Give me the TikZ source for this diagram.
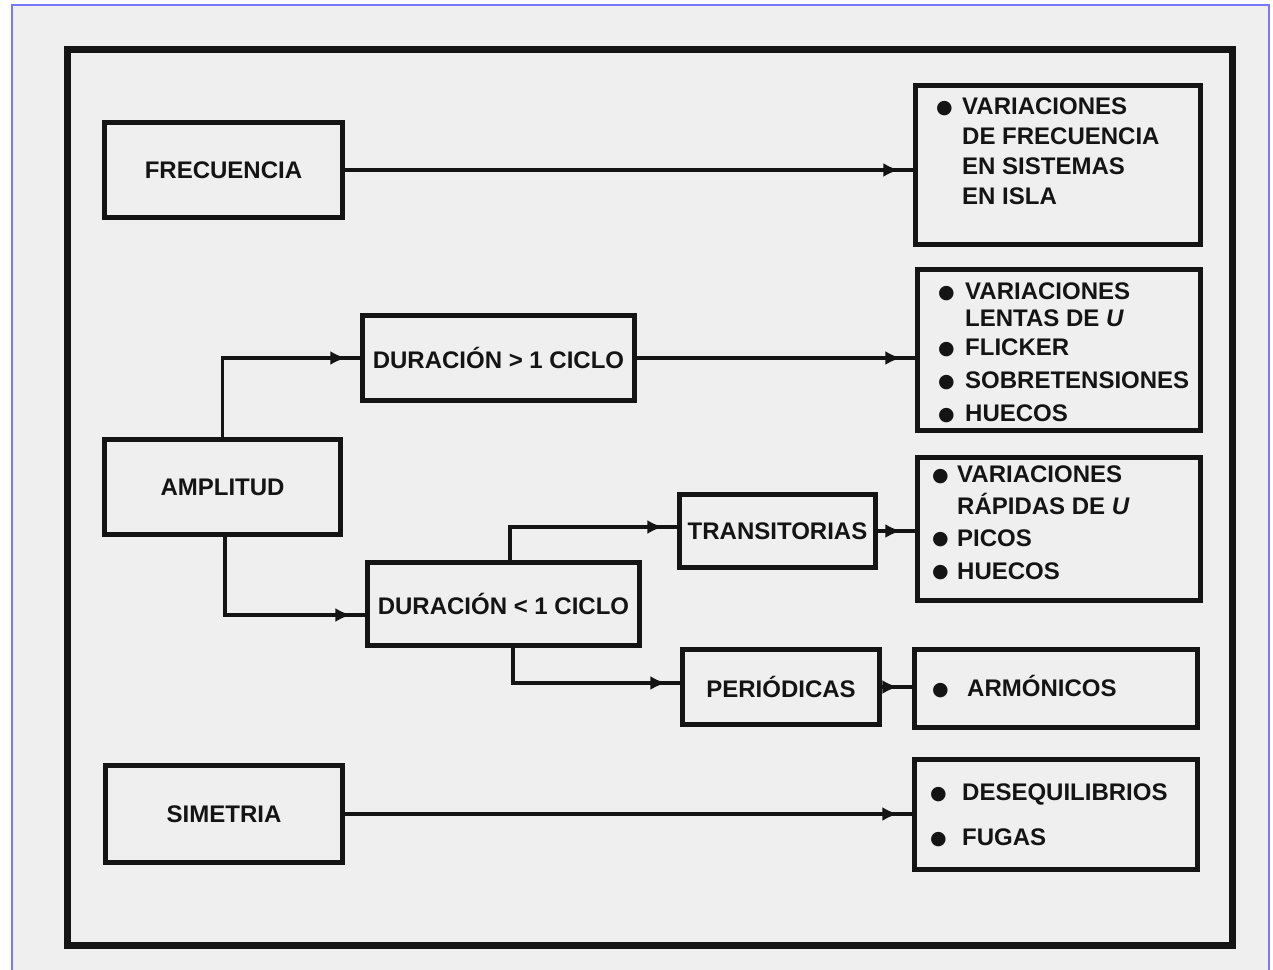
\documentclass[tikz,border=0pt]{standalone}
\usepackage{fontspec}
\setmainfont{Liberation Sans}
\newfontfamily\simbolos{DejaVu Sans}
\usetikzlibrary{arrows.meta,decorations.markings}
\definecolor{fondo}{RGB}{239,239,239}
\definecolor{marco}{RGB}{120,120,255}
\definecolor{tinta}{RGB}{20,20,20}
\newcommand{\vineta}[1]{\makebox[#1][l]{\raisebox{1.5pt}{\simbolos\fontsize{19}{19}\selectfont ●}}}

\begin{document}
\begin{tikzpicture}
	  [x=1pt,y=-1pt,
	   every node/.style={font=\bfseries\fontsize{24}{29}\selectfont,text=tinta},
	   caja/.style={draw=tinta,line width=4.5pt,rectangle,inner sep=0pt},
	   lista/.style={anchor=base west,inner sep=0pt},
	   flecha/.style={draw=tinta,line width=3.5pt,postaction={decorate},
	     decoration={markings,mark=at position -14pt with {\arrow{Latex[length=16pt,width=14pt]}}}}]
	\useasboundingbox (0,0) rectangle (1273,969);
	\fill[white] (0,0) rectangle (1273,969);
	\fill[fondo] (12,5) rectangle (1269,975);
	\draw[marco,line width=2pt] (12,975) -- (12,5) -- (1269,5) -- (1269,975);
	\draw[tinta,line width=7pt] (67,49) rectangle (1232,945);

	% columna izquierda
	\node[caja,minimum width=238pt,minimum height=95pt] (frec) at (223.5,170) {FRECUENCIA};
	\node[caja,minimum width=236pt,minimum height=95pt] (amp)  at (222.5,487) {AMPLITUD};
	\node[caja,minimum width=237pt,minimum height=97pt] (sim)  at (224,814)   {SIMETRIA};

	% columna central
	\node[caja,minimum width=272pt,minimum height=85pt] (dmay)  at (498.5,358) {DURACIÓN > 1 CICLO};
	\node[caja,minimum width=272pt,minimum height=83pt] (dmen)  at (503.5,604) {DURACIÓN < 1 CICLO};
	\node[caja,minimum width=196pt,minimum height=73pt] (trans) at (777.5,531) {TRANSITORIAS};
	\node[caja,minimum width=197pt,minimum height=75pt] (peri)  at (781,687)   {PERIÓDICAS};

	% columna derecha
	\node[caja,minimum width=285pt,minimum height=159pt] (lfrec) at (1058,165)   {};
	\node[caja,minimum width=283pt,minimum height=161pt] (llent) at (1059,350)   {};
	\node[caja,minimum width=283pt,minimum height=143pt] (lrap)  at (1059,529)   {};
	\node[caja,minimum width=283pt,minimum height=78pt]  (larm)  at (1056,688.5) {};
	\node[caja,minimum width=283pt,minimum height=110pt] (ldes)  at (1056,814.5) {};

	\node[lista] (tfrec) at (936,114.5) {\begin{tabular}[t]{@{}l@{}l@{}}
	  \vineta{26pt} & VARIACIONES\\[1pt] & DE FRECUENCIA\\[1pt] & EN SISTEMAS\\[1pt] & EN ISLA
	  \end{tabular}};
	\node[lista] (tlent) at (938,299.5) {\begin{tabular}[t]{@{}l@{}l@{}}
	  \vineta{27pt} & VARIACIONES\\[-2pt] & LENTAS DE \textit{U}\\[0pt]
	  \vineta{27pt} & FLICKER\\[4pt] \vineta{27pt} & SOBRETENSIONES\\[4pt] \vineta{27pt} & HUECOS
	  \end{tabular}};
	\node[lista] (trap) at (932,482.5) {\begin{tabular}[t]{@{}l@{}l@{}}
	  \vineta{25pt} & VARIACIONES\\[2pt] & RÁPIDAS DE \textit{U}\\[3pt]
	  \vineta{25pt} & PICOS\\[4pt] \vineta{25pt} & HUECOS
	  \end{tabular}};
	\node[lista] (tarm) at (932,696.5) {\vineta{35pt}ARMÓNICOS};
	\node[lista] (tdes) at (930,800.5) {\begin{tabular}[t]{@{}l@{}l@{}}
	  \vineta{32pt} & DESEQUILIBRIOS\\[16pt] \vineta{32pt} & FUGAS
	  \end{tabular}};

	\foreach \from/\to in {frec/lfrec,dmay/llent,trans/lrap,peri/larm,sim/ldes}
	  \draw[flecha] (\from.east) -- (\from.east -| \to.west);
	\draw[flecha] (amp.north) |- (dmay.west);
	\draw[flecha] ([xshift=2.5pt]amp.south) |- ([yshift=-11pt]dmen.west);
	\draw[flecha] ([xshift=6.5pt]dmen.north) |- ([yshift=4pt]trans.west);
	\draw[flecha] ([xshift=9.5pt]dmen.south) |- ([yshift=4pt]peri.west);
	\end{tikzpicture}
\end{document}
